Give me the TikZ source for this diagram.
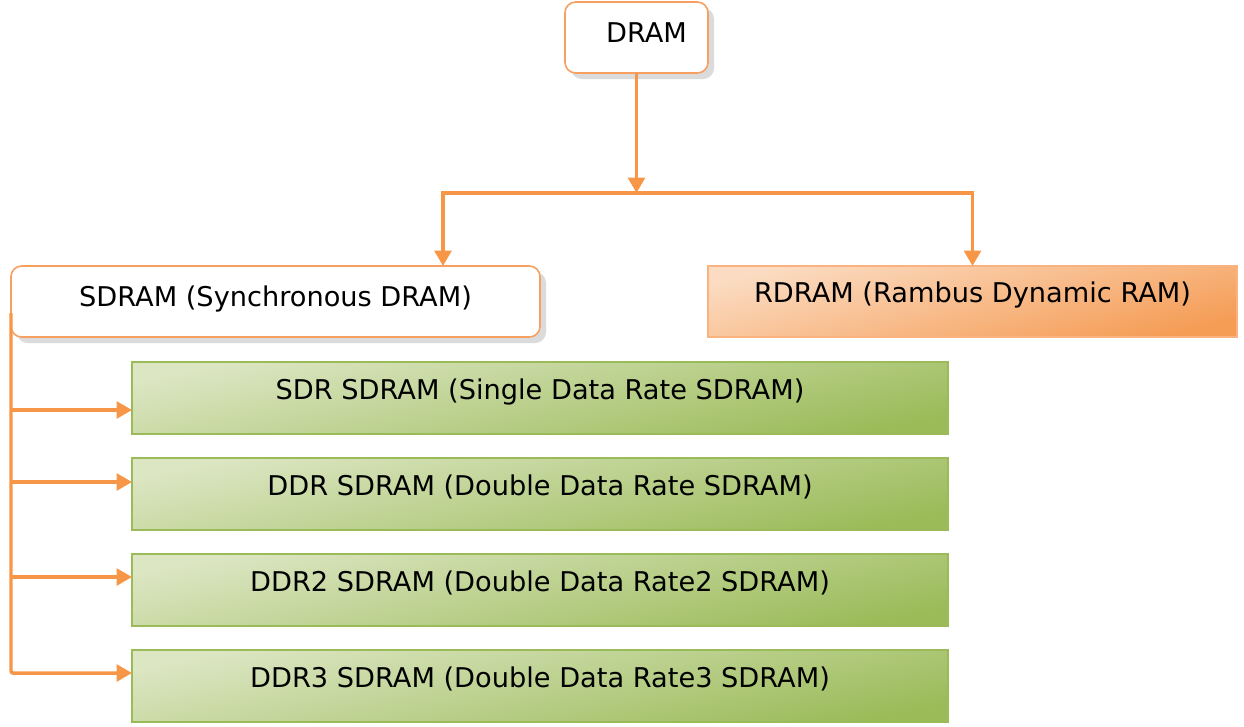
\documentclass[tikz,border=0pt]{standalone}
\usepackage{fontspec}
\setmainfont{DejaVu Sans}
\usetikzlibrary{arrows.meta,shadows}
\definecolor{orng}{HTML}{F79646}
\definecolor{orngb}{HTML}{F7A062}
\definecolor{grn}{HTML}{9BBB59}
\definecolor{grnl}{HTML}{DCE6C3}
\definecolor{pchl}{HTML}{FBDCC2}
\definecolor{pchd}{HTML}{F59C55}
\begin{document}
\begin{tikzpicture}[x=0.75pt,y=-0.75pt,
  every node/.style={font=\fontsize{20.4}{24}\selectfont, inner sep=0pt, outer sep=0pt},
  shadowed/.style={general shadow={fill=gray!28, shadow xshift=4.5pt, shadow yshift=-4.5pt}},
  roundbox/.style={draw=orngb, line width=1.2pt, fill=white, rounded corners=8pt, shadowed,
    minimum height=53.25pt, text height=12pt, text depth=4.9pt},
  rdbox/.style={draw=orngb!80, line width=1.2pt, top color=pchl, bottom color=pchd, shading angle=14,
    minimum width=396.75pt, minimum height=53.25pt, text height=10pt, text depth=8.2pt},
  grnbox/.style={draw=grn, line width=1.2pt, top color=grnl, bottom color=grn, shading angle=12,
    minimum width=612pt, minimum height=54pt, text height=10pt, text depth=8.2pt},
  conn/.style={draw=orng, line width=2.6pt},
  tip/.style={-{Triangle[length=11.5pt,width=12.5pt]}}
]
\useasboundingbox (0,0) rectangle (1244,726);

\node[roundbox, minimum width=107.25pt] (dram) at (636.5,37.5) {\hspace*{15pt}DRAM};
\node[roundbox, minimum width=396.75pt] (sdram) at (275.5,301.5) {SDRAM (Synchronous DRAM)};
\node[rdbox] (rdram) at (972.5,301.5) {RDRAM (Rambus Dynamic RAM)};

\node[grnbox] (g1) at (540,398) {SDR SDRAM (Single Data Rate SDRAM)};
\node[grnbox] (g2) at (540,494) {DDR SDRAM (Double Data Rate SDRAM)};
\node[grnbox] (g3) at (540,590) {DDR2 SDRAM (Double Data Rate2 SDRAM)};
\node[grnbox] (g4) at (540,686) {DDR3 SDRAM (Double Data Rate3 SDRAM)};

\coordinate (bar) at (636.5,193);
\coordinate (xS) at (443,0);
\coordinate (trunk) at (11,313);
\coordinate (a1) at ([yshift=-9pt]g1.west);
\coordinate (a2) at ([yshift=9pt]g2.west);
\coordinate (a3) at ([yshift=9.75pt]g3.west);
\coordinate (a4) at ([yshift=9.75pt]g4.west);

\draw[conn, tip] (dram.south) -- (bar);
\draw[conn, tip] (bar) -| (sdram.north -| xS);
\draw[conn, tip] (bar) -| (rdram.north);
\draw[conn, tip, rounded corners=1.5pt] (trunk) |- (a4);
\draw[conn, tip] (trunk |- a1) -- (a1);
\draw[conn, tip] (trunk |- a2) -- (a2);
\draw[conn, tip] (trunk |- a3) -- (a3);
\end{tikzpicture}
\end{document}
